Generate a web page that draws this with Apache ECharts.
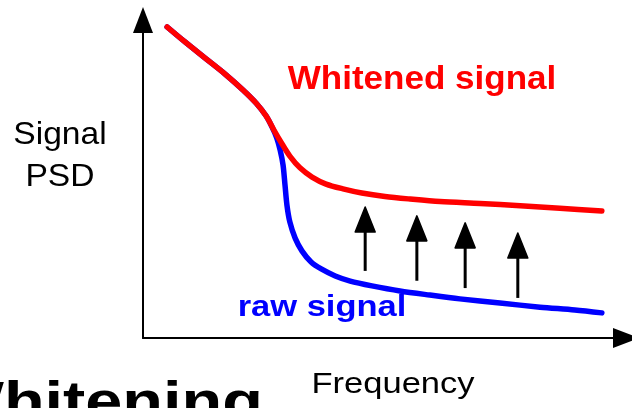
<!DOCTYPE html>
<html>
<head>
<meta charset="utf-8">
<script src="https://cdn.jsdelivr.net/npm/echarts@6/dist/echarts.min.js"></script>
<style>
    html, body { margin: 0; padding: 0; background: #fff; }
    #chart { width: 632px; height: 408px; }
</style>
</head>
<body>
<div id="chart"></div>
<script>
    // curves (frequency 0-100, PSD 0-100)
    var rawFreq = [5.0, 8.7, 12.8, 17.0, 20.7, 23.4, 25.5, 26.7, 27.7, 28.4, 29.0, 29.4, 29.8, 30.4, 31.5, 32.9,
        34.8, 36.9, 39.8, 42.9, 47.4, 53.2, 59.4, 65.6, 73.9, 82.2, 89.4, 95.0];
    var rawPsd = [97.8, 93.1, 88.1, 83.0, 78.0, 73.9, 69.8, 66.4, 62.9, 59.1, 54.4, 48.1, 41.8, 36.5, 31.4, 27.4,
        23.9, 21.7, 19.5, 17.9, 16.4, 14.8, 13.5, 12.3, 11.0, 9.7, 8.8, 7.9];
    var whiteFreq = [5.0, 8.7, 12.8, 17.0, 20.7, 23.4, 25.5, 27.1, 28.8, 30.4, 32.5, 35.0, 37.9, 41.4, 45.3,
        50.1, 55.3, 61.5, 69.8, 78.1, 86.3, 95.0];
    var whitePsd = [97.8, 93.1, 88.1, 83.0, 78.0, 73.9, 69.8, 65.4, 61.0, 57.2, 53.5, 50.6, 48.4, 46.9, 45.6,
        44.5, 43.7, 42.9, 42.3, 41.6, 40.8, 39.9];

    // up arrows between the curves
    var arrowFreq = [46.0, 56.7, 66.7, 77.6];
    var arrowFrom = [21.1, 18.0, 15.7, 12.6];
    var arrowTo = [41.2, 38.4, 36.2, 33.0];

    var labelWhite = 'Whitened signal';
    var labelRaw = 'raw signal';
    var labelY = 'Signal\nPSD';
    var labelX = 'Frequency';
    var title = 'Whitening';

    function pairs(xs, ys) {
        var out = [];
        for (var i = 0; i < xs.length; i++) {
            out.push([xs[i], ys[i]]);
        }
        return out;
    }

    var arrowData = [];
    for (var i = 0; i < arrowFreq.length; i++) {
        arrowData.push([arrowFreq[i], arrowFrom[i], arrowTo[i]]);
    }

    var myChart = echarts.init(document.getElementById('chart'));
    var font = '"Liberation Sans", Arial, Helvetica, sans-serif';

    function txt(text, x, y, size, weight, color, align, sx) {
        return {
            type: 'text', x: x, y: y, scaleX: sx, z: 10,
            style: {
                text: text,
                font: weight + ' ' + size + 'px ' + font,
                fill: color,
                align: align, textAlign: align,
                verticalAlign: 'middle', textVerticalAlign: 'middle',
                lineHeight: 42
            }
        };
    }

    var axisStyle = {
        show: true,
        symbol: ['none', 'triangle'],
        symbolSize: [20, 26],
        lineStyle: { color: '#000', width: 2 }
    };

    myChart.setOption({
        backgroundColor: '#fff',
        animation: false,
        grid: { left: 143, top: 20, right: 6, bottom: 70 },
        xAxis: {
            type: 'value', min: 0, max: 100,
            axisLine: axisStyle,
            axisTick: { show: false },
            axisLabel: { show: false },
            splitLine: { show: false }
        },
        yAxis: {
            type: 'value', min: 0, max: 100,
            axisLine: axisStyle,
            axisTick: { show: false },
            axisLabel: { show: false },
            splitLine: { show: false }
        },
        series: [{
            name: 'raw',
            type: 'line',
            data: pairs(rawFreq, rawPsd),
            smooth: 0.3,
            symbol: 'none',
            lineStyle: { color: '#0000ff', width: 5.5, cap: 'round', join: 'round' },
            z: 2
        }, {
            name: 'whitened',
            type: 'line',
            data: pairs(whiteFreq, whitePsd),
            smooth: 0.3,
            symbol: 'none',
            lineStyle: { color: '#ff0000', width: 5.5, cap: 'round', join: 'round' },
            z: 3
        }, {
            type: 'custom',
            data: arrowData,
            z: 4,
            renderItem: function (params, api) {
                var tail = api.coord([api.value(0), api.value(1)]);
                var tip = api.coord([api.value(0), api.value(2)]);
                var headH = 25, headW = 10;
                return {
                    type: 'group',
                    children: [{
                        type: 'line',
                        shape: { x1: tail[0], y1: tail[1], x2: tip[0], y2: tip[1] + headH - 2 },
                        style: { stroke: '#000', lineWidth: 3 }
                    }, {
                        type: 'polygon',
                        shape: { points: [[tip[0], tip[1]], [tip[0] + headW, tip[1] + headH], [tip[0] - headW, tip[1] + headH]] },
                        style: { fill: '#000', stroke: '#000', lineWidth: 1.5, lineJoin: 'round' }
                    }]
                };
            }
        }],
        graphic: {
            elements: [
                txt(labelWhite, 422, 80, 34, 'bold', '#ff0000', 'center', 1.03),
                txt(labelRaw, 322, 308, 30, 'bold', '#0000ff', 'center', 1.15),
                txt(labelY, 60, 156, 32, 'normal', '#000', 'center', 1.05),
                txt(labelX, 393, 385, 29, 'normal', '#000', 'center', 1.19),
                txt(title, 263, 405, 56, 'bold', '#000', 'right', 1.19)
            ]
        }
    });
</script>
</body>
</html>
